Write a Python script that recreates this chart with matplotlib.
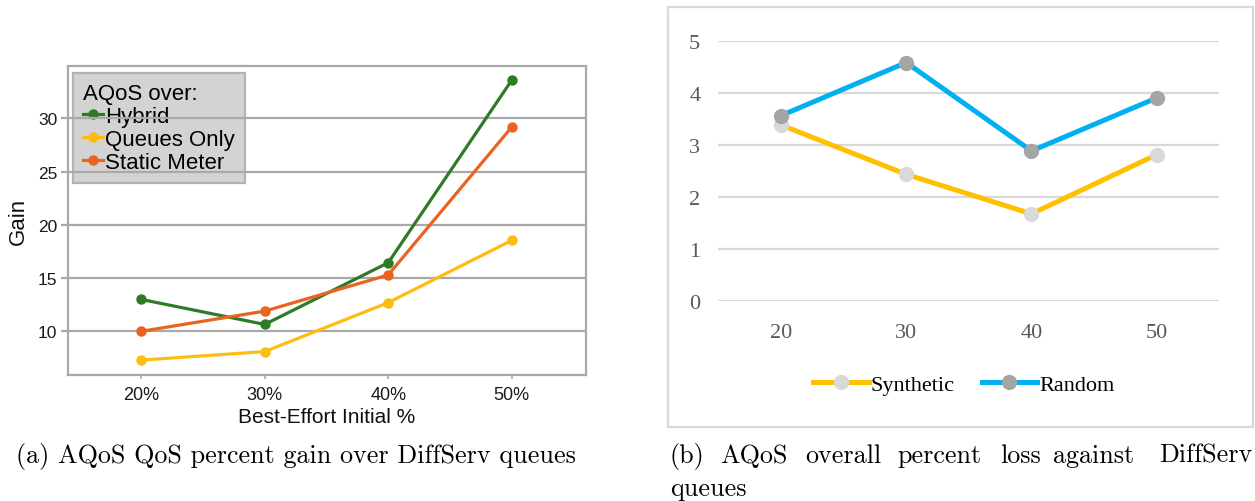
import matplotlib
matplotlib.use("Agg")
import matplotlib.pyplot as plt
from matplotlib.patches import Rectangle

# left chart: QoS percent gain
gain_cats = ["20%", "30%", "40%", "50%"]
hybrid = [13.0, 10.65, 16.45, 33.6]
queues_only = [7.3, 8.1, 12.7, 18.55]
static_meter = [10.0, 11.9, 15.3, 29.2]
gain_ticks = [10, 15, 20, 25, 30]

# right chart: overall percent loss
loss_cats = ["20", "30", "40", "50"]
synthetic = [3.38, 2.43, 1.67, 2.81]
random_ = [3.56, 4.58, 2.88, 3.90]
loss_ticks = [0, 1, 2, 3, 4, 5]

sans = ["Liberation Sans", "DejaVu Sans"]
serif = ["Liberation Serif", "DejaVu Serif"]

fig = plt.figure(figsize=(12.55, 5.02), dpi=100)

# ---- left ----
ax = fig.add_axes([0.0544, 0.2510, 0.4125, 0.6161])
x = range(len(gain_cats))
gcol = "#a9a9a9"
ax.plot(x, hybrid, color="#2f7a26", lw=2.3, marker="o", ms=6.5, label="Hybrid", zorder=3)
ax.plot(x, queues_only, color="#fcbc12", lw=2.3, marker="o", ms=6.5, label="Queues Only", zorder=3)
ax.plot(x, static_meter, color="#ea6320", lw=2.3, marker="o", ms=6.5, label="Static Meter", zorder=3)
ax.set_xlim(-0.59, 3.6)
ax.set_ylim(5.9, 34.95)
ax.set_xticks(list(x))
ax.set_xticklabels(gain_cats)
ax.set_yticks(gain_ticks)
ax.set_axisbelow(False)
ax.yaxis.grid(True, color=gcol, lw=1.6)
for s in ax.spines.values():
    s.set_color(gcol)
    s.set_linewidth(1.6)
ax.tick_params(axis="y", length=5, width=1.6, color=gcol, pad=3, labelsize=12.5, labelcolor="#1a1a1a")
ax.tick_params(axis="x", length=3, width=1.2, color=gcol, pad=5, labelsize=13, labelcolor="#1a1a1a")
for t in ax.get_xticklabels() + ax.get_yticklabels():
    t.set_family(sans)
ax.set_xlabel("Best-Effort Initial %", fontsize=15, family=sans, color="#111111")
ax.set_ylabel("Gain", fontsize=16, family=sans, color="#111111")
ax.xaxis.set_label_coords(0.5, -0.103)
ax.yaxis.set_label_coords(-0.076, 0.5)
leg = ax.legend(loc="upper left", bbox_to_anchor=(0.0085, 0.976), borderaxespad=0,
                title="AQoS over:", alignment="left", prop={"family": sans, "size": 16},
                title_fontproperties={"family": sans, "size": 16},
                handlelength=0.9, handletextpad=0.1, labelspacing=0.09, borderpad=0.45,
                fancybox=False, framealpha=1, facecolor="#d3d3d3", edgecolor="#b3b3b3",
                numpoints=1)
leg.get_frame().set_linewidth(1.6)
leg.set_zorder(1)

# ---- right ----
fig.patches.append(Rectangle((0.5325, 0.1468), 0.4659, 0.8367, transform=fig.transFigure,
                             fill=False, edgecolor="#d9d9d9", lw=1.6))
bx = fig.add_axes([0.5724, 0.3990, 0.3992, 0.5179])
x2 = range(len(loss_cats))
bx.plot(x2, synthetic, color="#ffc000", lw=3.6, marker="o", ms=10, mfc="#d9d9d9", mec="#d9d9d9",
        label="Synthetic", clip_on=False, zorder=3)
bx.plot(x2, random_, color="#00b0f0", lw=3.6, marker="o", ms=10, mfc="#a5a5a5", mec="#a5a5a5",
        label="Random", clip_on=False, zorder=3)
bx.set_xlim(-0.5, 3.5)
bx.set_ylim(0, 5)
bx.set_xticks(list(x2))
bx.set_xticklabels(loss_cats)
bx.set_yticks(loss_ticks)
bx.yaxis.grid(True, color="#d9d9d9", lw=1.6)
bx.set_axisbelow(True)
for s in bx.spines.values():
    s.set_visible(False)
bx.tick_params(axis="both", length=0, labelsize=16, labelcolor="#595959")
bx.tick_params(axis="y", pad=13)
bx.tick_params(axis="x", pad=16)
for t in bx.get_xticklabels() + bx.get_yticklabels():
    t.set_family(serif)
bx.legend(loc="center", bbox_to_anchor=(0.49, -0.324), ncol=2, frameon=False,
          prop={"family": serif, "size": 16}, handlelength=2.5, handletextpad=0.1,
          columnspacing=1.2, numpoints=1)

# ---- captions ----
cap = {"family": "cmr10", "size": 18.8, "color": "black"}
fig.text(16 / 1255, 1 - 463 / 502, "(a) AQoS QoS percent gain over DiffServ queues",
         ha="left", va="baseline", **cap)
words = [("(b)", 670), ("AQoS", 720), ("overall", 805), ("percent", 897),
         ("loss", 1000), ("against", 1053)]
for w, px in words:
    fig.text(px / 1255, 1 - 463 / 502, w, ha="left", va="baseline", **cap)
fig.text(1252 / 1255, 1 - 463 / 502, "DiffServ", ha="right", va="baseline", **cap)
fig.text(670 / 1255, 1 - 496 / 502, "queues", ha="left", va="baseline", **cap)

fig.savefig("out.png", dpi=100)
